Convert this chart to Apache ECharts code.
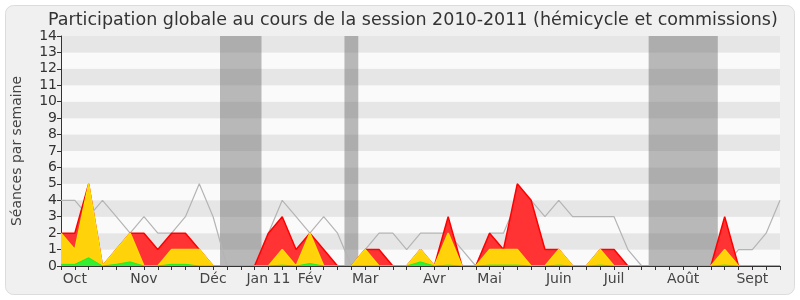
<!DOCTYPE html>
<html>
<head>
<meta charset="utf-8">
<script src="https://cdn.jsdelivr.net/npm/echarts@6/dist/echarts.min.js"></script>
<style>html,body{margin:0;padding:0;background:#ffffff;}#c{width:800px;height:300px;}</style>
</head>
<body>
<div id="c"></div>
<script>
// Week index 0..52 (Oct 2010 -> Sept 2011)
var monthLabels = {1:'Oct',6:'Nov',11:'Déc',15:'Jan 11',18:'Fév',22:'Mar',27:'Avr',31:'Mai',36:'Juin',40:'Juil',45:'Août',50:'Sept'};
var yTicks = [0,1,2,3,4,5,6,7,8,9,10,11,12,13,14];
var vacations = [[11.5,14.5],[20.5,21.5],[42.5,47.5]];
var presenceTotal = [2,2,5,0,1,2,2,1,2,2,1,0,0,0,0,2,3,1,2,1,0,0,1,1,0,0,1,0,3,0,0,2,1,5,4,1,1,0,0,1,1,0,0,0,0,0,0,0,3,0,0,0,0];
var presenceHemicycle = [2,1,5,0,1,2,0,0,1,1,1,0,0,0,0,0,1,0,2,0,0,0,1,0,0,0,1,0,2,0,0,1,1,1,0,0,1,0,0,1,0,0,0,0,0,0,0,0,1,0,0,0,0];
var interventions = [0.1,0.1,0.5,0,0.1,0.25,0,0,0.1,0.1,0,0,0,0,0,0,0.05,0,0.15,0,0,0,0,0,0,0,0.25,0,0.05,0,0,0.05,0.05,0.05,0,0,0.05,0,0,0.05,0,0,0,0,0,0,0,0,0.05,0,0,0,0];
var mediane = [4,4,3,4,3,2,3,2,2,3,5,3,0,0,0,2,4,3,2,3,2,0,1,2,2,1,2,2,2,1,0,2,2,4,4,3,4,3,3,3,3,1,0,0,0,0,0,0,0,1,1,2,4];

function pairs(arr){ return arr.map(function(v,i){ return [i,v]; }); }

var chart = echarts.init(document.getElementById('c'), null, {renderer:'canvas'});
var FONT = 'DejaVu Sans';
var option = {
  animation: false,
  backgroundColor: '#ffffff',
  textStyle: {fontFamily: FONT},
  graphic: [{
    type: 'rect', z: -10, silent: true,
    shape: {x: 5.5, y: 5.5, width: 789, height: 289, r: 8},
    style: {fill: '#f0f0f0', stroke: '#dcdcdc', lineWidth: 1}
  }],
  title: {
    text: 'Participation globale au cours de la session 2010-2011 (hémicycle et commissions)',
    left: 43, top: 6,
    textStyle: {fontFamily: FONT, fontSize: 17.5, fontWeight: 'normal', color: '#333333'}
  },
  grid: {left: 61, right: 20, top: 36, bottom: 34},
  xAxis: [{
    type: 'value', min: 0, max: 52, interval: 1, z: 10,
    axisLine: {show: true, onZero: false, lineStyle: {color: '#333333', width: 1}},
    axisTick: {show: true, length: 4, lineStyle: {color: '#333333'}},
    axisLabel: {
      show: true, interval: 0, margin: 6, fontSize: 14, color: '#444444', fontFamily: FONT,
      showMinLabel: true, showMaxLabel: true,
      formatter: function(v){ return monthLabels[v] || ''; }
    },
    splitLine: {show: false}
  }, {
    type: 'value', position: 'top', min: 0, max: 52, interval: 1, z: 10,
    axisLine: {show: false},
    axisTick: {show: true, inside: true, length: 1.5, lineStyle: {color: '#333333'}},
    axisLabel: {show: false},
    splitLine: {show: false}
  }],
  yAxis: {
    type: 'value', min: 0, max: 14, interval: 1,
    name: 'Séances par semaine', nameLocation: 'middle', nameGap: 37, nameRotate: 90,
    nameTextStyle: {fontFamily: FONT, fontSize: 14, color: '#444444'},
    axisLine: {show: true, lineStyle: {color: '#333333'}},
    axisTick: {show: true, length: 4, lineStyle: {color: '#333333'}},
    axisLabel: {fontSize: 14, color: '#333333', margin: 4, fontFamily: FONT,
      formatter: function(v){ return yTicks.indexOf(v) >= 0 ? String(v) : ''; }},
    splitLine: {show: false},
    splitArea: {show: true, areaStyle: {color: ['#fafafa', '#e6e6e6']}}
  },
  series: [
    {
      type: 'line', name: 'vacances', data: [], silent: true, z: 1,
      markArea: {silent: true, itemStyle: {color: 'rgba(98,98,98,0.43)'},
        data: vacations.map(function(v){ return [{xAxis: v[0]}, {xAxis: v[1]}]; })}
    },
    {
      type: 'line', name: 'Présences', data: pairs(presenceTotal), symbol: 'none',
      lineStyle: {color: '#ff0000', width: 1.5},
      areaStyle: {color: '#ff3333', opacity: 1},
      z: 3
    },
    {
      type: 'line', name: 'Hémicycle', data: pairs(presenceHemicycle), symbol: 'none',
      lineStyle: {color: '#ffdd00', width: 1.5},
      areaStyle: {color: '#ffd20a', opacity: 1},
      z: 4
    },
    {
      type: 'line', name: 'Interventions', data: pairs(interventions), symbol: 'none',
      lineStyle: {color: '#22ee22', width: 1},
      areaStyle: {color: '#33ee33', opacity: 1},
      z: 5
    },
    {
      type: 'line', name: 'Médiane', data: pairs(mediane), symbol: 'none',
      lineStyle: {color: '#b4b4b4', width: 1.2},
      z: 2
    }
  ]
};
chart.setOption(option);
</script>
</body>
</html>
